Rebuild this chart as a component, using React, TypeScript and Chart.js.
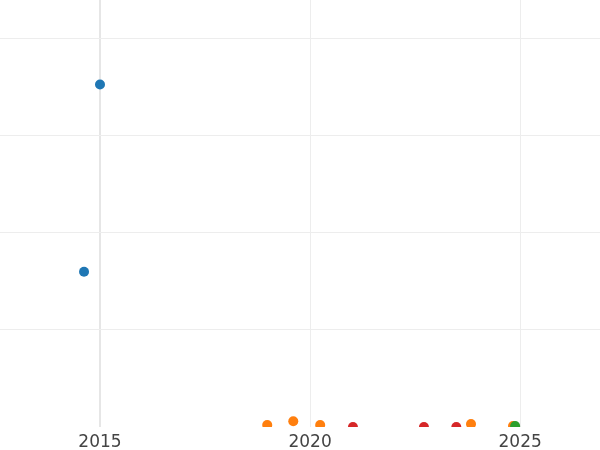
import React, { useEffect, useRef } from "react";
import { Chart, registerables } from "chart.js";

Chart.register(...registerables);

const xTicks = [2015, 2020, 2025];
const yTicks = [1, 2, 3, 4];

const blueX = [2015.0, 2014.62];
const blueY = [3.53, 1.6];
const orangeX = [2018.98, 2019.6, 2020.24, 2023.83, 2024.83];
const orangeY = [0.02, 0.06, 0.02, 0.03, 0.01];
const redX = [2021.02, 2022.71, 2023.48];
const redY = [0, 0, 0];
const greenX = [2024.88];
const greenY = [0.01];

const pts = (xs: number[], ys: number[]) => xs.map((x, i) => ({ x, y: ys[i] }));

export default function App() {
  const ref = useRef<HTMLCanvasElement | null>(null);
  useEffect(() => {
    if (!ref.current) return;
    const mk = (label: string, xs: number[], ys: number[], color: string, order: number) => ({
      label,
      data: pts(xs, ys),
      backgroundColor: color,
      borderColor: color,
      pointRadius: 5,
      pointBorderWidth: 0,
      clip: 0,
      order,
    });
    const chart = new Chart(ref.current, {
      type: "scatter",
      data: {
        datasets: [
          mk("A", blueX, blueY, "#1f77b4", 3),
          mk("B", orangeX, orangeY, "#ff7f0e", 2),
          mk("C", redX, redY, "#d62728", 1),
          mk("D", greenX, greenY, "#2ca02c", 0),
        ],
      },
      options: {
        animation: false,
        responsive: false,
        maintainAspectRatio: false,
        layout: { padding: 0, autoPadding: false },
        plugins: { legend: { display: false }, tooltip: { enabled: false } },
        scales: {
          x: {
            type: "linear",
            min: 2012.62,
            max: 2026.9,
            afterBuildTicks: (s: any) => {
              s.ticks = xTicks.map((v) => ({ value: v }));
            },
            afterFit: (s: any) => {
              s.height = 23;
            },
            grid: {
              color: (c: any) => (c.tick && c.tick.value === 2015 ? "#e6e6e6" : "#ededed"),
              lineWidth: (c: any) => (c.tick && c.tick.value === 2015 ? 2 : 1),
              drawTicks: false,
            },
            border: { display: false },
            ticks: {
              padding: 5,
              color: "#444",
              maxRotation: 0,
              font: { family: "DejaVu Sans", size: 17 },
              callback: (v: any) => String(v),
            },
          },
          y: {
            type: "linear",
            min: 0,
            max: 4.4,
            afterBuildTicks: (s: any) => {
              s.ticks = yTicks.map((v) => ({ value: v }));
            },
            grid: { color: "#ededed", lineWidth: 1, drawTicks: false },
            border: { display: false },
            ticks: { display: false },
          },
        },
      },
    } as any);
    return () => chart.destroy();
  }, []);
  return (
    <div style={{ position: "fixed", left: 0, top: 0, width: 600, height: 450, background: "#fff" }}>
      <canvas ref={ref} width={600} height={450} style={{ width: 600, height: 450 }} />
    </div>
  );
}
